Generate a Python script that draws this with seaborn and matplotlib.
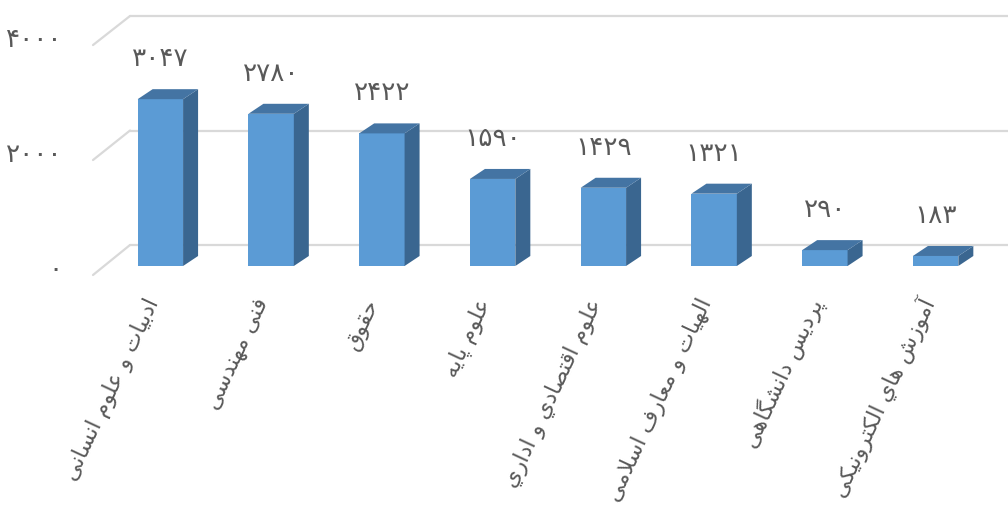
import matplotlib
matplotlib.use("Agg")
import matplotlib.pyplot as plt
import matplotlib.transforms as mtransforms
from matplotlib.patches import Polygon
import seaborn as sns

# данные с картинки
categories = [
    "ادبیات و علوم انسانی",
    "فنی مهندسی",
    "حقوق",
    "علوم پایه",
    "علوم اقتصادي و اداري",
    "الهیات و معارف اسلامی",
    "پردیس دانشگاهی",
    "آموزش هاي الکترونیکی",
]
values = [3047, 2780, 2422, 1590, 1429, 1321, 290, 183]
y_ticks = [0, 2000, 4000]

# формы арабских букв: изолированная, конечная, начальная, срединная
FORMS = {
    "ا": ("\uFE8D", "\uFE8E", None, None),
    "آ": ("\uFE81", "\uFE82", None, None),
    "ب": ("\uFE8F", "\uFE90", "\uFE91", "\uFE92"),
    "پ": ("\uFB56", "\uFB57", "\uFB58", "\uFB59"),
    "ت": ("\uFE95", "\uFE96", "\uFE97", "\uFE98"),
    "ح": ("\uFEA1", "\uFEA2", "\uFEA3", "\uFEA4"),
    "د": ("\uFEA9", "\uFEAA", None, None),
    "ر": ("\uFEAD", "\uFEAE", None, None),
    "ز": ("\uFEAF", "\uFEB0", None, None),
    "س": ("\uFEB1", "\uFEB2", "\uFEB3", "\uFEB4"),
    "ش": ("\uFEB5", "\uFEB6", "\uFEB7", "\uFEB8"),
    "ص": ("\uFEB9", "\uFEBA", "\uFEBB", "\uFEBC"),
    "ع": ("\uFEC9", "\uFECA", "\uFECB", "\uFECC"),
    "ف": ("\uFED1", "\uFED2", "\uFED3", "\uFED4"),
    "ق": ("\uFED5", "\uFED6", "\uFED7", "\uFED8"),
    "ک": ("\uFB8E", "\uFB8F", "\uFB90", "\uFB91"),
    "گ": ("\uFB92", "\uFB93", "\uFB94", "\uFB95"),
    "ل": ("\uFEDD", "\uFEDE", "\uFEDF", "\uFEE0"),
    "م": ("\uFEE1", "\uFEE2", "\uFEE3", "\uFEE4"),
    "ن": ("\uFEE5", "\uFEE6", "\uFEE7", "\uFEE8"),
    "ه": ("\uFEE9", "\uFEEA", "\uFEEB", "\uFEEC"),
    "و": ("\uFEED", "\uFEEE", None, None),
    "ی": ("\uFBFC", "\uFBFD", "\uFBFE", "\uFBFF"),
    "ي": ("\uFEF1", "\uFEF2", "\uFEF3", "\uFEF4"),
}
RIGHT_JOIN = set("اآدذرزژو")
LAM_ALEF = {"ا": ("\uFEFB", "\uFEFC"), "آ": ("\uFEF5", "\uFEF6")}


def shape_rtl(text):
    # matplotlib не умеет соединять арабские буквы, делаем это вручную
    out = []
    prev_joins = False
    i = 0
    while i < len(text):
        c = text[i]
        if c not in FORMS:
            out.append(c)
            prev_joins = False
            i += 1
            continue
        if c == "ل" and i + 1 < len(text) and text[i + 1] in LAM_ALEF:
            lig = LAM_ALEF[text[i + 1]]
            out.append(lig[1] if prev_joins else lig[0])
            prev_joins = False
            i += 2
            continue
        nxt = text[i + 1] if i + 1 < len(text) else ""
        can_next = c not in RIGHT_JOIN and nxt in FORMS
        iso, fin, ini, med = FORMS[c]
        if prev_joins and can_next:
            g = med
        elif prev_joins:
            g = fin
        elif can_next:
            g = ini
        else:
            g = iso
        out.append(g)
        prev_joins = c not in RIGHT_JOIN
        i += 1
    return "".join(reversed(out))


def fa_digits(n):
    return str(n).translate(str.maketrans("0123456789", "۰۱۲۳۴۵۶۷۸۹"))


sns.set_style("white")
plt.rcParams["font.family"] = ["DejaVu Sans"]

front_color = "#5B9BD5"
top_color = "#4474A3"
side_color = "#3A6690"
text_color = "#595959"
grid_color = "#D9D9D9"

fig = plt.figure(figsize=(10.08, 5.24), dpi=100)
ax = fig.add_axes([105 / 1008, 258 / 524, 886 / 1008, 219 / 524])

sns.barplot(x=list(range(len(values))), y=values, color=front_color, saturation=1,
            width=0.41, ax=ax, zorder=3, linewidth=0)
ax.set_xlim(-0.5, 7.5)
ax.set_ylim(0, 4000)
ax.set_axis_off()

# глубина столбиков в пикселях -> в единицах данных
px_x = ax.transData.transform((1, 0))[0] - ax.transData.transform((0, 0))[0]
px_y = ax.transData.transform((0, 1000))[1] - ax.transData.transform((0, 0))[1]
ddx = 15 / px_x
ddy = 10 / px_y * 1000

for bar in ax.patches:
    x0 = bar.get_x()
    w = bar.get_width()
    h = bar.get_height()
    x1 = x0 + w
    side = Polygon([(x1, 0), (x1 + ddx, ddy), (x1 + ddx, h + ddy), (x1, h)],
                   closed=True, facecolor=side_color, edgecolor="none", zorder=3)
    top = Polygon([(x0, h), (x0 + ddx, h + ddy), (x1 + ddx, h + ddy), (x1, h)],
                  closed=True, facecolor=top_color, edgecolor="none", zorder=3)
    ax.add_patch(side)
    ax.add_patch(top)
    ax.annotate(fa_digits(int(h)), xy=(x0 + w / 2, h), xytext=(0, 40),
                textcoords="offset pixels", ha="center", va="center",
                fontsize=19, color=text_color, annotation_clip=False)

# задняя стенка и диагонали слева
back_tr = ax.transData + mtransforms.Affine2D().scale(1, 1.0457).translate(0, 9.2)
front_tr = ax.transData + mtransforms.Affine2D().scale(1, 1.050).translate(0, -21.9)
pix = mtransforms.IdentityTransform()
back_y = mtransforms.blended_transform_factory(pix, back_tr)
front_y = mtransforms.blended_transform_factory(pix, front_tr)

for v in y_ticks:
    ax.plot([130, 1010], [v, v], transform=back_y, color=grid_color, lw=1.6,
            zorder=1, clip_on=False)
    yb = back_y.transform((0, v))[1]
    yf = front_y.transform((0, v))[1]
    ax.plot([93, 130], [yf, yb], transform=pix, color=grid_color, lw=1.6,
            zorder=1, clip_on=False)
    ax.text(62, yf + 5, fa_digits(v), transform=pix, ha="right", va="center",
            fontsize=19, color=text_color)

# подписи категорий под углом
for i, name in enumerate(categories):
    ax.annotate(shape_rtl(name), xy=(i, 0), xytext=(-7, -34),
                textcoords="offset pixels", rotation=65, rotation_mode="anchor",
                ha="right", va="center", fontsize=16, color=text_color,
                annotation_clip=False)

fig.savefig("out.png", dpi=100)
